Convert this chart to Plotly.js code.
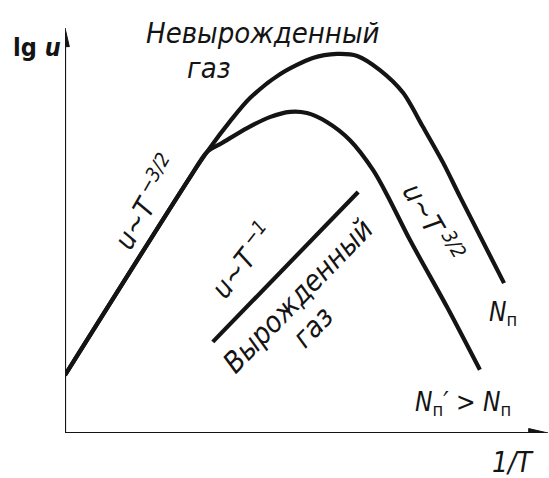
<!DOCTYPE html>
<html>
<head>
<meta charset="utf-8">
<script src="https://cdn.plot.ly/plotly-3.0.1.min.js"></script>
<style>
  html, body { margin: 0; padding: 0; background: #fff; }
  #plot { width: 549px; height: 478px; }
</style>
</head>
<body>
<div id="plot"></div>
<script>
// Mobility lg u versus 1/T for two impurity concentrations (N_п and N_п' > N_п).
// Coordinates are in arbitrary units: 1/T along x, lg u along y.

// Curve for concentration N_п
const lowDopedX = [0, 2.59, 3.00, 3.42, 3.83, 4.45, 5.13, 5.63, 6.05, 6.52, 7.00, 7.41, 7.83, 8.18, 9.09];
const lowDopedY = [1.43, 6.32, 7.04, 7.70, 8.27, 8.86, 9.26, 9.36, 9.31, 8.96, 8.40, 7.56, 6.67, 5.83, 3.70];

// Curve for the higher concentration N_п' > N_п
const highDopedX = [0, 2.59, 2.94, 3.25, 3.77, 4.24, 4.66, 5.01, 5.42, 5.90, 6.38, 6.69, 7.14, 7.91, 8.59];
const highDopedY = [1.43, 6.32, 6.94, 7.16, 7.53, 7.80, 7.93, 7.90, 7.68, 7.23, 6.49, 5.83, 4.77, 3.11, 1.56];

// Degenerate gas segment, u ~ T^-1
const degenerateX = [3.06, 6.07];
const degenerateY = [2.25, 5.95];

// Axis extents
const xMax = 10;
const yMax = 10;

const ink = '#141414';
const font = {
  family: '"DejaVu Sans Condensed", "DejaVu Sans", sans-serif',
  size: 29,
  color: ink,
  style: 'italic'
};

const curveLine = { color: ink, width: 4.2, shape: 'spline', smoothing: 0.8 };

const traces = [
  { x: lowDopedX, y: lowDopedY, mode: 'lines', line: curveLine, hoverinfo: 'skip' },
  { x: highDopedX, y: highDopedY, mode: 'lines', line: curveLine, hoverinfo: 'skip' },
  { x: degenerateX, y: degenerateY, mode: 'lines', line: { color: ink, width: 4.2 }, hoverinfo: 'skip' }
];

function label(text, x, y, angle, size) {
  return {
    text: text, x: x, y: y, xref: 'x', yref: 'y',
    showarrow: false, textangle: angle || 0,
    font: Object.assign({}, font, { size: size || font.size }),
    xanchor: 'center', yanchor: 'middle'
  };
}

// upright subscript "п"
const subP = '<sub><span style="font-style:normal">п</span></sub>';

const annotations = [
  // axis names
  { text: 'lg <i>u</i>', x: -0.058, y: 0.953, xref: 'paper', yref: 'paper', showarrow: false,
    font: Object.assign({}, font, { size: 25, style: 'normal', weight: 'bold' }),
    xanchor: 'center', yanchor: 'middle' },
  { text: '1/<i>T</i>', x: 0.928, y: -0.074, xref: 'paper', yref: 'paper', showarrow: false,
    font: Object.assign({}, font, { size: 28 }), xanchor: 'center', yanchor: 'middle' },

  // regions and slopes
  label('Невырожденный', 4.08, 9.88, 0, 29),
  label('газ', 2.98, 9.01, 0, 29),
  label('<i>u</i>~<i>T</i><sup> −3/2</sup>', 1.66, 5.70, -60, 28),
  label('<i>u</i>~<i>T</i><sup> −1</sup>', 3.66, 4.27, -52, 28),
  label('Вырожденный', 4.82, 3.38, -46, 29),
  label('газ', 5.13, 2.62, -46, 29),
  label('<i>u</i>~<i>T</i><sup> 3/2</sup>', 7.62, 5.20, 60, 28),
  label('<i>N</i>' + subP, 9.07, 2.96, 0, 26),
  label('<i>N</i>' + subP + '′ > <i>N</i>' + subP, 8.24, 0.74, 0, 26)
];

// axes drawn as lines with arrowheads
const axisLine = { color: ink, width: 2.2 };
const shapes = [
  { type: 'line', xref: 'x', yref: 'y', x0: 0, y0: 0, x1: 0, y1: yMax - 0.2, line: axisLine },
  { type: 'line', xref: 'x', yref: 'y', x0: 0, y0: 0, x1: xMax - 0.2, y1: 0, line: axisLine },
  { type: 'path', xref: 'x', yref: 'y',
    path: 'M0,' + yMax + ' L-0.09,' + (yMax - 0.46) + ' L0.09,' + (yMax - 0.46) + ' Z',
    fillcolor: ink, line: { color: ink, width: 1 } },
  { type: 'path', xref: 'x', yref: 'y',
    path: 'M' + xMax + ',0 L' + (xMax - 0.4) + ',-0.11 L' + (xMax - 0.4) + ',0.11 Z',
    fillcolor: ink, line: { color: ink, width: 1 } }
];

const hidden = {
  showgrid: false, zeroline: false, showline: false,
  showticklabels: false, ticks: '', fixedrange: true
};

const layout = {
  width: 549,
  height: 478,
  margin: { l: 65, r: 1, t: 28, b: 45 },
  paper_bgcolor: '#ffffff',
  plot_bgcolor: '#ffffff',
  showlegend: false,
  xaxis: Object.assign({ range: [0, xMax] }, hidden),
  yaxis: Object.assign({ range: [0, yMax] }, hidden),
  annotations: annotations,
  shapes: shapes
};

Plotly.newPlot('plot', traces, layout, { staticPlot: true, displayModeBar: false });
</script>
</body>
</html>
